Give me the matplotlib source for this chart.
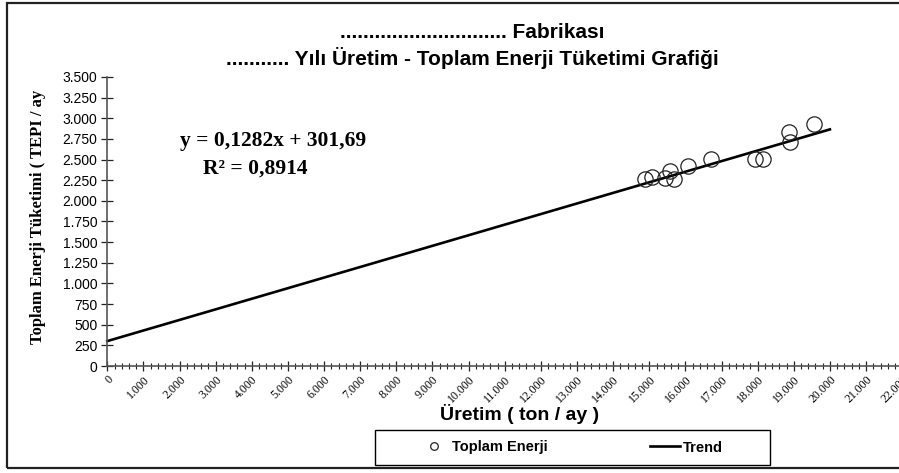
import matplotlib
matplotlib.use("Agg")
import matplotlib.pyplot as plt
from matplotlib.patches import Rectangle
from matplotlib.ticker import MultipleLocator, FixedLocator
import numpy as np

# Data
uretim = [14880, 15085, 15436, 15574, 15685, 16081, 16701, 17927, 18157, 18868, 18896, 19560]
enerji = [2265, 2293, 2280, 2362, 2261, 2426, 2511, 2503, 2511, 2834, 2713, 2927]
trend_slope = 0.1282
trend_intercept = 301.69
trend_x = [0, 20000]
x_ticks = list(range(0, 22001, 1000))
x_tick_labels = ["0"] + [f"{v // 1000}.000" for v in x_ticks[1:]]
y_ticks = list(range(0, 3501, 250))
y_tick_labels = [f"{v:,}".replace(",", ".") for v in y_ticks]

W, H = 899, 473
fig = plt.figure(figsize=(W / 100, H / 100), dpi=100)
fig.patch.set_facecolor("white")

# outer border
fig.patches.append(Rectangle((6.5 / W, 1 - 468 / H), 1.2, (468 - 3) / H,
                             transform=fig.transFigure, fill=False,
                             edgecolor="#222222", lw=1.6, zorder=0))

x0, x1 = 107.3, 902.2
y0, y1 = 366, 77
ax = fig.add_axes([x0 / W, 1 - y0 / H, (x1 - x0) / W, (y0 - y1) / H])
ax.set_xlim(0, 22000)
ax.set_ylim(0, 3500)
for s in ["top", "right"]:
    ax.spines[s].set_visible(False)
for s in ["left", "bottom"]:
    ax.spines[s].set_color("#555555")
    ax.spines[s].set_linewidth(1.2)

tx = np.array(trend_x, dtype=float)
ax.plot(tx, trend_slope * tx + trend_intercept, color="black", lw=1.9,
        label="Trend", zorder=2, clip_on=False)
ax.plot(uretim, enerji, linestyle="none", marker="o", markersize=11,
        markerfacecolor="none", markeredgecolor="#222222", markeredgewidth=0.9,
        label="Toplam Enerji", zorder=3)

ax.xaxis.set_major_locator(FixedLocator(x_ticks))
ax.xaxis.set_minor_locator(MultipleLocator(200))
ax.set_xticklabels(x_tick_labels, rotation=45, ha="right", va="top",
                   rotation_mode="anchor", fontfamily="Liberation Serif", fontsize=8.5)
ax.yaxis.set_major_locator(FixedLocator(y_ticks))
ax.set_yticklabels(y_tick_labels, fontfamily="Liberation Sans", fontsize=10)
ax.tick_params(axis="x", which="major", direction="inout", length=7, width=0.9,
               color="#222222", pad=2)
ax.tick_params(axis="x", which="minor", direction="inout", length=4, width=0.8,
               color="#222222")
ax.tick_params(axis="y", which="major", direction="inout", length=8, width=0.9,
               color="#222222", pad=3)

fig.text(472 / W, 1 - 33 / H, "............................. Fabrikası",
         ha="center", va="center", fontfamily="Liberation Sans",
         fontweight="bold", fontsize=15)
fig.text(472 / W, 1 - 58 / H, "........... Yılı Üretim - Toplam Enerji Tüketimi Grafiği",
         ha="center", va="center", fontfamily="Liberation Sans",
         fontweight="bold", fontsize=15)

fig.text(273 / W, 1 - 141 / H, "y = 0,1282x + 301,69", ha="center", va="center",
         fontfamily="Liberation Serif", fontweight="bold", fontsize=15.5)
fig.text(255 / W, 1 - 169 / H, "R² = 0,8914", ha="center", va="center",
         fontfamily="Liberation Serif", fontweight="bold", fontsize=15.5)

fig.text(38 / W, 1 - 217 / H, "Toplam Enerji Tüketimi ( TEPI / ay", rotation=90,
         ha="center", va="center", fontfamily="Liberation Serif",
         fontweight="bold", fontsize=12)

fig.text(520 / W, 1 - 414 / H, "Üretim ( ton / ay )", ha="center", va="center",
         fontfamily="Liberation Sans", fontweight="bold", fontsize=14)

# legend frame
fig.patches.append(Rectangle((375 / W, 1 - 465 / H), (770 - 375) / W, (465 - 430) / H,
                             transform=fig.transFigure, fill=False,
                             edgecolor="black", lw=1.0, zorder=1))

handles, labels = ax.get_legend_handles_labels()
order = [1, 0]
leg = fig.legend([handles[i] for i in order], [labels[i] for i in order],
                 loc="center", bbox_to_anchor=(571 / W, 1 - 447.5 / H), ncol=2,
                 frameon=False,
                 prop={"family": "Liberation Sans", "weight": "bold", "size": 10.5},
                 markerscale=0.5, columnspacing=7.0, handlelength=2.05,
                 handletextpad=0.2, borderpad=0.2, borderaxespad=0)

fig.savefig("out.png", dpi=100)
